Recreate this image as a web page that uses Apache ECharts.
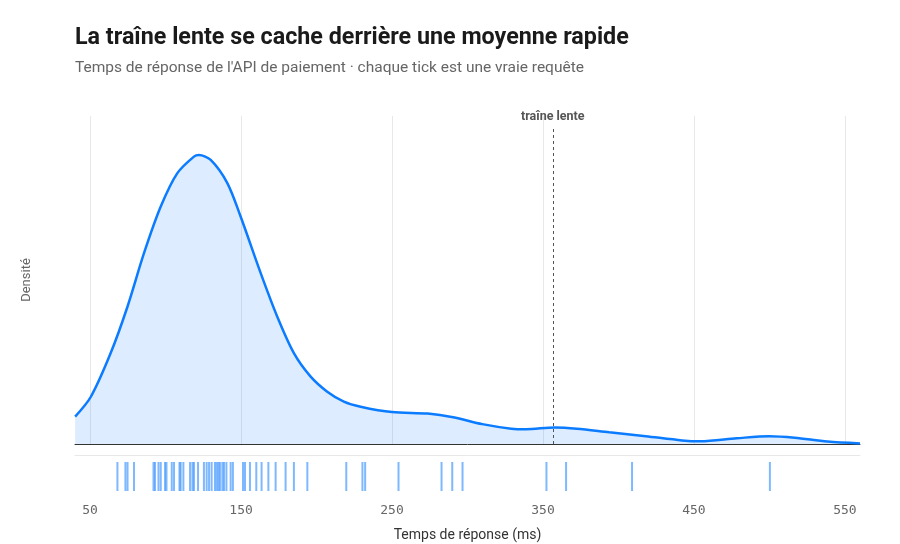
<!DOCTYPE html>
<html>
<head>
<meta charset="utf-8">
<script src="https://cdn.jsdelivr.net/npm/echarts@6/dist/echarts.min.js"></script>
<style>html,body{margin:0;padding:0;background:#fff;}#c{width:900px;height:544px;}</style>
</head>
<body>
<div id="c"></div>
<script>
// Response times of individual requests (ms) — rug ticks
const requests = [68.1, 73.4, 74.8, 79.1, 92.0, 93.0, 95.3, 96.8, 99.6, 100.6, 104.1, 105.6,
  109.2, 110.0, 111.8, 116.2, 117.8, 118.8, 121.5, 125.4, 127.2, 128.8, 130.5, 132.7, 133.9,
  135.0, 136.0, 137.6, 138.7, 140.3, 143.1, 144.6, 151.3, 152.6, 155.9, 160.1, 163.6, 168.1,
  172.9, 179.5, 185.0, 193.9, 219.7, 230.4, 232.2, 254.3, 282.8, 289.9, 296.7, 352.3, 365.3,
  409.0, 500.3];
// Density curve (x in ms, density ×1000)
const densityX = [40.1, 50.5, 63.7, 74.8, 85.7, 96.8, 107.8, 118.8, 122.1, 129.9, 140.9, 149.7,
  163.0, 174.0, 185.0, 196.1, 207.1, 218.1, 229.2, 250.0, 273.7, 290.5, 309.8, 329.0, 338.7,
  357.9, 372.4, 393.9, 418.1, 442.1, 454.2, 478.3, 499.8, 516.7, 538.4, 560.0];
const densityY = [0.91, 1.57, 3.03, 4.57, 6.34, 7.89, 9.00, 9.55, 9.60, 9.44, 8.67, 7.56,
  5.68, 4.23, 3.02, 2.24, 1.74, 1.41, 1.24, 1.06, 1.01, 0.89, 0.66, 0.51, 0.49,
  0.55, 0.51, 0.39, 0.26, 0.12, 0.09, 0.19, 0.26, 0.21, 0.08, 0.02];
const tickValues = [50, 150, 250, 350, 450, 550];
const tailThreshold = 356.5;
const tailLabel = 'traîne lente';
const titleText = 'La traîne lente se cache derrière une moyenne rapide';
const subtitleText = "Temps de réponse de l'API de paiement · chaque tick est une vraie requête";

const chart = echarts.init(document.getElementById('c'));
const FONT = 'Roboto, "Noto Sans", sans-serif';
const MONO = '"DejaVu Sans Mono", monospace';
chart.setOption({
  animation: false,
  backgroundColor: '#fff',
  textStyle: { fontFamily: FONT },
  title: [
    { text: titleText, left: 75, top: 27, padding: 0, textStyle: { fontSize: 23.3, fontWeight: 'bold', color: '#1a1a1a', fontFamily: FONT } },
    { text: subtitleText, left: 75, top: 60, padding: 0, textStyle: { fontSize: 15.5, fontWeight: 'normal', color: '#666', fontFamily: FONT } }
  ],
  grid: [
    { left: 75, right: 40, top: 116, height: 328 },
    { left: 75, right: 40, top: 455, height: 43 }
  ],
  xAxis: [
    { type: 'value', gridIndex: 0, min: 40, max: 560,
      axisLine: { show: true, onZero: false, lineStyle: { color: '#333', width: 1 } },
      axisTick: { show: false, customValues: tickValues },
      axisLabel: { show: false, customValues: tickValues },
      splitLine: { show: true, lineStyle: { color: '#e8e8e8', width: 1 } } },
    { type: 'value', gridIndex: 1, min: 40, max: 560, position: 'bottom',
      axisLine: { show: false },
      axisTick: { show: false, customValues: tickValues },
      axisLabel: { customValues: tickValues, margin: 6, color: '#666', fontSize: 13, fontFamily: MONO },
      splitLine: { show: false },
      name: 'Temps de réponse (ms)', nameLocation: 'middle', nameGap: 30,
      nameTextStyle: { color: '#333', fontSize: 14, fontFamily: FONT } },
    { type: 'value', gridIndex: 1, min: 40, max: 560, position: 'top',
      axisLine: { show: true, lineStyle: { color: '#e8e8e8', width: 1 } },
      axisTick: { show: false }, axisLabel: { show: false }, splitLine: { show: false } }
  ],
  yAxis: [
    { type: 'value', gridIndex: 0, min: 0, max: 10.9,
      axisLine: { show: false }, axisTick: { show: false }, axisLabel: { show: false },
      splitLine: { show: false },
      name: 'Densité', nameLocation: 'middle', nameGap: 42,
      nameTextStyle: { color: '#666', fontSize: 13, fontFamily: FONT } },
    { type: 'value', gridIndex: 1, min: 0, max: 1,
      axisLine: { show: false }, axisTick: { show: false }, axisLabel: { show: false },
      splitLine: { show: false } }
  ],
  series: [
    { type: 'line', xAxisIndex: 0, yAxisIndex: 0,
      data: densityX.map((x, i) => [x, densityY[i]]),
      smooth: 0.3, showSymbol: false, symbol: 'none',
      lineStyle: { color: '#0b7bff', width: 2.5 },
      areaStyle: { color: 'rgba(11,123,255,0.2)' },
      markLine: {
        silent: true, symbol: 'none',
        lineStyle: { type: [3, 3], color: '#555', width: 1 },
        label: { show: true, position: 'end', formatter: tailLabel, color: '#555', fontWeight: 'bold', fontSize: 12.5, distance: 5, fontFamily: FONT },
        data: [[{ coord: [tailThreshold, 0] }, { coord: [tailThreshold, 10.5] }]]
      },
      z: 3 },
    { type: 'scatter', xAxisIndex: 1, yAxisIndex: 1,
      data: requests.map(v => [v, 0.5]),
      symbol: 'rect', symbolSize: [2, 29],
      itemStyle: { color: 'rgba(25,128,255,0.7)' } }
  ]
});
</script>
</body>
</html>
